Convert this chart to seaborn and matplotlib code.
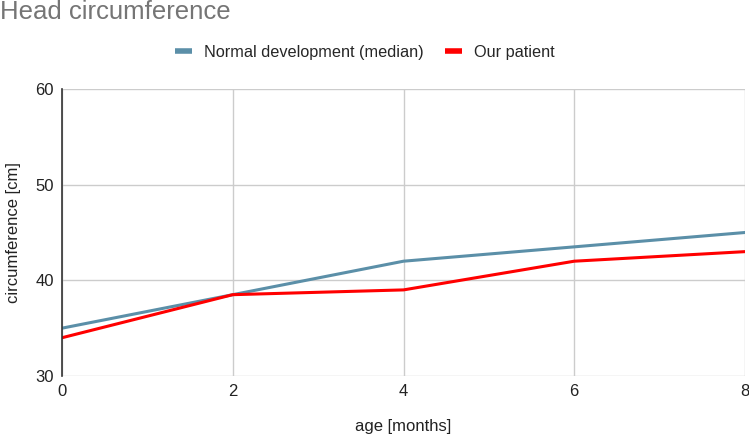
import matplotlib
matplotlib.use('Agg')
import matplotlib.pyplot as plt
import seaborn as sns
import pandas as pd

# chart data
age_months = [0, 2, 4, 6, 8]
normal_median = [35, 38.5, 42, 43.5, 45]
our_patient = [34, 38.5, 39, 42, 43]
series_names = ['Normal development (median)', 'Our patient']

df = pd.DataFrame({
    'age': age_months * 2,
    'value': normal_median + our_patient,
    'series': [series_names[0]] * 5 + [series_names[1]] * 5,
})

sns.set_style('white')
plt.rcParams['font.family'] = ['Liberation Sans', 'DejaVu Sans']

fig = plt.figure(figsize=(7.49, 4.34), dpi=100)
ax = fig.add_axes([62 / 749, 1 - 376 / 434, (745 - 62) / 749, (376 - 89) / 434])

sns.lineplot(data=df, x='age', y='value', hue='series',
             palette=['#5b8fa8', '#ff0000'], linewidth=2.2, ax=ax)

ax.set_xlim(0, 8)
ax.set_ylim(30, 60)
ax.set_xticks([0, 2, 4, 6, 8])
ax.set_yticks([30, 40, 50, 60])
ax.grid(True, color='#cccccc', linewidth=1)
ax.set_axisbelow(True)
for side in ['top', 'right', 'bottom']:
    ax.spines[side].set_visible(False)
ax.spines['left'].set_color('#333333')
ax.spines['left'].set_linewidth(1.2)
ax.tick_params(axis='both', length=0, labelsize=12, colors='#222222', pad=6)

ax.set_xlabel('age [months]', fontsize=12, color='#222222', labelpad=14)
ax.set_ylabel('circumference [cm]', fontsize=12, color='#222222', labelpad=10)

handles, labels = ax.get_legend_handles_labels()
ax.legend(handles, labels, loc='center', bbox_to_anchor=(364.5 / 749, 1 - 52 / 434),
          bbox_transform=fig.transFigure, ncol=2, frameon=False, fontsize=11.7,
          handlelength=1.1, columnspacing=1.3, handletextpad=0.7)
for line in ax.get_legend().get_lines():
    line.set_linewidth(4)
    line.set_solid_capstyle('butt')

fig.text(0.0, 1 - 12 / 434, 'Head circumference', fontsize=18.5, color='#757575',
         ha='left', va='center')

fig.savefig('out.png', dpi=100)
